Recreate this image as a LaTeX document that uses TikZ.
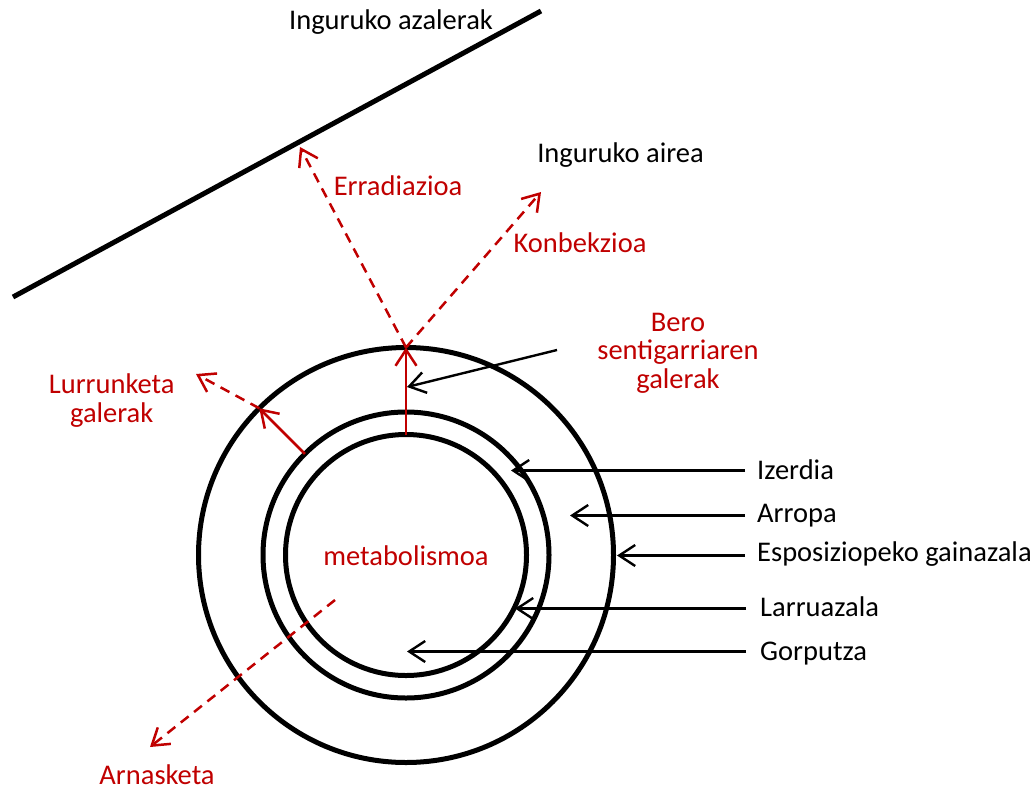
\documentclass[tikz,border=0pt]{standalone}
\usepackage{fontspec}
\setmainfont{Carlito}
\usetikzlibrary{arrows.meta}
\definecolor{myred}{HTML}{C00000}
\begin{document}
\begin{tikzpicture}[x=1pt,y=-1pt, font=\fontsize{28.5}{28.3}\selectfont,
  ring/.style={circle, draw, line width=5pt, inner sep=0pt, outer sep=0pt},
  blk/.style={line width=2.4pt, -{Straight Barb[length=16pt,width=21pt]}},
  redsolid/.style={myred, line width=2.5pt, -{Straight Barb[length=16pt,width=21pt]}},
  reddash/.style={redsolid, dash pattern=on 10pt off 7pt},
  txt/.style={inner sep=0pt, anchor=base},
  redtxt/.style={txt, text=myred},
  rlab/.style={inner sep=0pt, anchor=base west},
]
\useasboundingbox (0,0) rectangle (1035,790);

% surface line
\draw[line width=5pt] (13,297) -- (541,11);

% rings
\coordinate (c) at (406,555);
\node[ring, minimum size=415pt] (outer) at (c) {};
\node[ring, minimum size=286pt] (middle) at (c) {};
\node[ring, minimum size=241pt] (inner) at (c) {};

% texts
\node[txt] (azal) at (391,29.3) {Inguruko azalerak};
\node[txt] (airea) at (620.5,162) {Inguruko airea};
\node[redtxt] (errad) at (398,195) {Erradiazioa};
\node[redtxt] (konb) at (580,252) {Konbekzioa};
\node[text=myred, inner sep=0pt, align=center] (bero) at (678,353) {Bero\\sentigarriaren\\galerak};
\node[text=myred, inner sep=0pt, align=center] (lurr) at (111.7,400.5) {Lurrunketa\\galerak};
\node[redtxt] (metab) at (406,565.7) {metabolismoa};
\node[redtxt] (arnas) at (157,784) {Arnasketa};

% red flows
\coordinate (rtip) at (300,147);
\coordinate (ktip) at (541,192);
\coordinate (ltip) at (196,374);
\coordinate (astart) at (335,600);
\coordinate (atip) at (150,747);
\draw[redsolid] (inner.north) -- (outer.north);
\draw[reddash] (outer.north) -- (rtip);
\draw[reddash] (outer.north) -- (ktip);
\draw[redsolid] (middle.135) -- (outer.135);
\draw[reddash] (outer.135) -- (ltip);
\draw[reddash] (astart) -- (atip);

% sensible heat pointer
\coordinate (bstart) at (557,350);
\coordinate (btip) at (407,387);
\draw[blk] (bstart) -- (btip);

% right labels
\node[rlab] (izerdia) at (757,479.5) {Izerdia};
\node[rlab] (arropa) at (757,522.5) {Arropa};
\node[rlab] (espo) at (757,561.5) {Esposiziopeko gainazala};
\node[rlab] (larru) at (760,616.5) {Larruazala};
\node[rlab] (gorp) at (760,660.5) {Gorputza};
\coordinate (izt) at (511,470.5);
\coordinate (art) at (570,515.5);
\coordinate (est) at (617,555.5);
\coordinate (lat) at (515,608.5);
\coordinate (got) at (407,651.5);
\draw[blk] ([shift={(-12,-9)}]izerdia.base west) -- (izt);
\draw[blk] ([shift={(-12,-7)}]arropa.base west) -- (art);
\draw[blk] ([shift={(-12,-6)}]espo.base west) -- (est);
\draw[blk] ([shift={(-14,-8)}]larru.base west) -- (lat);
\draw[blk] ([shift={(-14,-9)}]gorp.base west) -- (got);
\end{tikzpicture}
\end{document}
